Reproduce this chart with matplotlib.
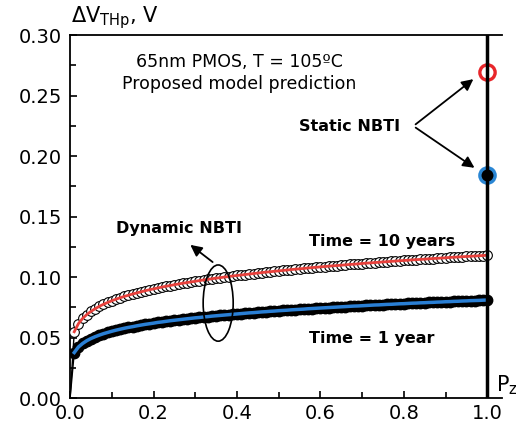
import numpy as np
import matplotlib
matplotlib.use("Agg")
import matplotlib.pyplot as plt
from matplotlib.patches import Ellipse
from matplotlib.ticker import MultipleLocator

plt.rcParams['font.family'] = ['DejaVu Sans']

# duty cycle Pz, step 0.01
pz = [round(0.01 * i, 2) for i in range(101)]

# time = 10 years
dv_10y = [0.0, 0.0548, 0.0615, 0.0658, 0.0690, 0.0716, 0.0738, 0.0758, 0.0775, 0.0790,
          0.0804, 0.0817, 0.0829, 0.0840, 0.0850, 0.0860, 0.0869, 0.0878, 0.0887, 0.0895,
          0.0902, 0.0910, 0.0917, 0.0924, 0.0930, 0.0937, 0.0943, 0.0949, 0.0954, 0.0960,
          0.0965, 0.0971, 0.0976, 0.0981, 0.0986, 0.0991, 0.0995, 0.1000, 0.1004, 0.1009,
          0.1013, 0.1017, 0.1021, 0.1025, 0.1029, 0.1033, 0.1037, 0.1041, 0.1044, 0.1048,
          0.1051, 0.1055, 0.1058, 0.1062, 0.1065, 0.1068, 0.1071, 0.1075, 0.1078, 0.1081,
          0.1084, 0.1087, 0.1090, 0.1093, 0.1095, 0.1098, 0.1101, 0.1104, 0.1106, 0.1109,
          0.1112, 0.1115, 0.1117, 0.1120, 0.1122, 0.1125, 0.1127, 0.1130, 0.1132, 0.1135,
          0.1137, 0.1139, 0.1142, 0.1144, 0.1146, 0.1148, 0.1151, 0.1153, 0.1155, 0.1157,
          0.1159, 0.1162, 0.1164, 0.1166, 0.1168, 0.1170, 0.1172, 0.1174, 0.1176, 0.1178,
          0.1180]

# time = 1 year
dv_1y = [0.0, 0.0376, 0.0422, 0.0451, 0.0474, 0.0492, 0.0507, 0.0520, 0.0532, 0.0542,
         0.0552, 0.0561, 0.0569, 0.0577, 0.0584, 0.0590, 0.0597, 0.0603, 0.0609, 0.0614,
         0.0619, 0.0625, 0.0629, 0.0634, 0.0639, 0.0643, 0.0647, 0.0651, 0.0655, 0.0659,
         0.0663, 0.0666, 0.0670, 0.0673, 0.0677, 0.0680, 0.0683, 0.0686, 0.0689, 0.0692,
         0.0695, 0.0698, 0.0701, 0.0704, 0.0706, 0.0709, 0.0712, 0.0714, 0.0717, 0.0719,
         0.0722, 0.0724, 0.0726, 0.0729, 0.0731, 0.0733, 0.0735, 0.0738, 0.0740, 0.0742,
         0.0744, 0.0746, 0.0748, 0.0750, 0.0752, 0.0754, 0.0756, 0.0758, 0.0760, 0.0761,
         0.0763, 0.0765, 0.0767, 0.0769, 0.0770, 0.0772, 0.0774, 0.0775, 0.0777, 0.0779,
         0.0780, 0.0782, 0.0784, 0.0785, 0.0787, 0.0788, 0.0790, 0.0791, 0.0793, 0.0794,
         0.0796, 0.0797, 0.0799, 0.0800, 0.0802, 0.0803, 0.0805, 0.0806, 0.0807, 0.0809,
         0.0810]

# static NBTI (Pz = 1)
static_10y = 0.2694
static_1y = 0.184

fig = plt.figure(figsize=(5.27, 4.28), dpi=100)
ax = fig.add_axes([0.133, 0.070, 0.820, 0.848])

# thin black model lines underneath
ax.plot(pz, dv_10y, color='black', lw=1, zorder=2)
ax.plot(pz, dv_1y, color='black', lw=1, zorder=2)

# 10 years: open circles + red line
ax.plot(pz[1:], dv_10y[1:], 'o', ms=7, mfc='white', mec='black', mew=0.8, zorder=3)
ax.plot(pz[1:], dv_10y[1:], color='#e8413c', lw=2, zorder=4)

# 1 year: filled black circles + blue line
ax.plot(pz[1:], dv_1y[1:], 'o', ms=7.5, mfc='black', mec='black', zorder=3)
ax.plot(pz[1:], dv_1y[1:], color='#2a7fd4', lw=2.5, zorder=4)

# static vertical at Pz = 1
ax.plot(1.0, static_10y, 'o', ms=11, mfc='white', mec='#e8262a', mew=2.4, zorder=5)
ax.plot(1.0, static_1y, 'o', ms=11, mfc='black', mec='#2a86d4', mew=2.4, zorder=5)
ax.axvline(1.0, color='black', lw=2.5, zorder=6)
ax.plot([1.0, 1.0], [dv_1y[-1], static_1y], color='black', lw=1, zorder=6)

ax.set_xlim(0, 1.036)
ax.set_ylim(0, 0.30)
ax.xaxis.set_major_locator(MultipleLocator(0.2))
ax.xaxis.set_minor_locator(MultipleLocator(0.1))
ax.yaxis.set_major_locator(MultipleLocator(0.05))
ax.yaxis.set_minor_locator(MultipleLocator(0.025))
ax.set_xticks([0, 0.2, 0.4, 0.6, 0.8, 1.0])
ax.set_xticklabels(['0.0', '0.2', '0.4', '0.6', '0.8', '1.0'])
ax.set_yticklabels(['%.2f' % v for v in ax.get_yticks()])
ax.tick_params(which='both', direction='in', labelsize=14, width=1.2)
ax.tick_params(axis='x', pad=4)
ax.tick_params(axis='y', pad=6)
ax.tick_params(which='major', length=5)
ax.tick_params(which='minor', length=4)
ax.spines['right'].set_visible(False)
for s in ['left', 'bottom', 'top']:
    ax.spines[s].set_linewidth(1.3)

# annotations
ax.text(0.405, 0.278, '65nm PMOS, T = 105ºC', ha='center', va='center', fontsize=12.5)
ax.text(0.405, 0.2595, 'Proposed model prediction', ha='center', va='center', fontsize=12.5)

ax.text(0.671, 0.2248, 'Static NBTI', ha='center', va='center', fontsize=11.5, fontweight='bold')
ax.annotate('', xy=(0.972, 0.265), xytext=(0.823, 0.2248),
            arrowprops=dict(arrowstyle='-|>', color='black', lw=1.3, mutation_scale=17))
ax.annotate('', xy=(0.975, 0.189), xytext=(0.823, 0.2248),
            arrowprops=dict(arrowstyle='-|>', color='black', lw=1.3, mutation_scale=17))

ax.text(0.261, 0.1405, 'Dynamic NBTI', ha='center', va='center', fontsize=11.5, fontweight='bold')
ax.add_patch(Ellipse((0.355, 0.0785), 0.072, 0.063, fill=False, edgecolor='black', lw=1.2, zorder=7))
ax.annotate('', xy=(0.283, 0.128), xytext=(0.347, 0.111),
            arrowprops=dict(arrowstyle='-|>', color='black', lw=1.3, mutation_scale=17))

ax.text(0.748, 0.129, 'Time = 10 years', ha='center', va='center', fontsize=11.5, fontweight='bold')
ax.text(0.724, 0.0496, 'Time = 1 year', ha='center', va='center', fontsize=11.5, fontweight='bold')

fig.text(0.135, 0.960, r'$\Delta$V$_{\mathrm{THp}}$, V', ha='left', va='center', fontsize=15)
ax.text(1.02, 0.011, r'P$_{\mathrm{z}}$', ha='left', va='center', fontsize=15)

fig.savefig('out.png', dpi=100)
